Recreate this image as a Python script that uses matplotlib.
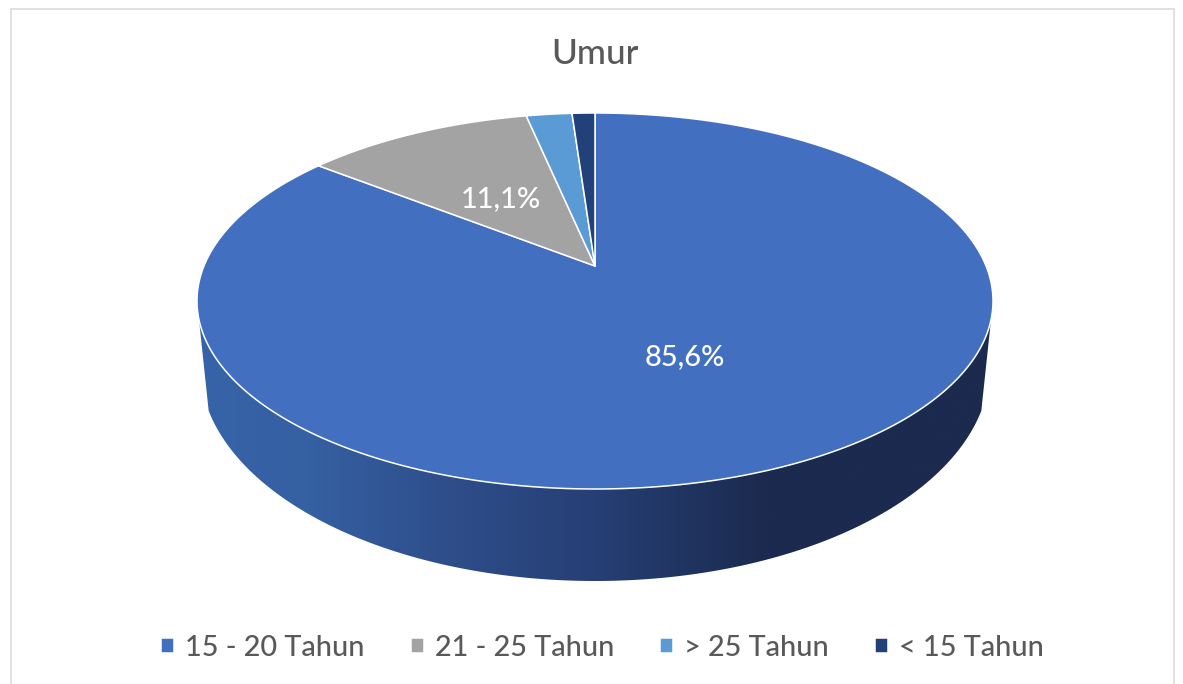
import numpy as np
import matplotlib
matplotlib.use("Agg")
import matplotlib.pyplot as plt
from matplotlib.colors import LinearSegmentedColormap
from matplotlib.patches import Polygon

# data
categories = ["15 - 20 Tahun", "21 - 25 Tahun", "> 25 Tahun", "< 15 Tahun"]
counts = [77, 10, 2, 1]
colors = ["#426FBF", "#A3A3A3", "#5B9BD5", "#234179"]
title = "Umur"

plt.rcParams['font.family'] = ['Lato', 'DejaVu Sans']
plt.rcParams['font.weight'] = 'medium'

W, H = 1183, 684
fig = plt.figure(figsize=(W/100, H/100), dpi=100, facecolor='white')
ax = fig.add_axes([0, 0, 1, 1])
ax.axis('off')

# pie geometry in pixels
cx = 595
apex_y = 266
top_y = 113
bottom_y = 489
half_w = 398
depth_y = 581

# perspective of the top face: the centre of the circle sits above the ellipse centre
back = apex_y-top_y
front = bottom_y-apex_y
persp = (front-back)/(front+back)
A = back*(1+persp)
B = half_w*np.sqrt(1-persp**2)


def project(theta):
    u = np.sin(theta)
    v = np.cos(theta)
    d = 1+persp*v
    return cx+B*u/d, apex_y-A*v/d


# side wall, dark on the right
cy_top = (top_y+bottom_y)/2
ry_top = (bottom_y-top_y)/2
rx_low = 395
ry_low = 215
cy_low = depth_y-ry_low
t = np.linspace(np.pi, 2*np.pi, 300)
xs_top = cx+half_w*np.cos(t)
ys_top = cy_top-ry_top*np.sin(t)
xs_low = cx+rx_low*np.cos(t[::-1])
ys_low = cy_low-ry_low*np.sin(t[::-1])
# the silhouette runs straight down to the lower rim, the rim itself starts further in
keep = np.abs(xs_low-cx) <= 387
side_xy = np.column_stack([np.r_[xs_top, xs_low[keep]], np.r_[ys_top, ys_low[keep]]])

side_cmap = LinearSegmentedColormap.from_list("side", [
    (0.0, "#3763A8"), (0.14, "#3560A2"), (0.3, "#2F4F8C"),
    (0.5, "#263F75"), (0.72, "#1B2A4E"), (1.0, "#1B2A4E")])
im = ax.imshow(np.linspace(0, 1, 400).reshape(1, -1), cmap=side_cmap, aspect='auto',
               extent=[cx-half_w, cx+half_w, depth_y+2, cy_top], zorder=1)
side = Polygon(side_xy, closed=True, transform=ax.transData, facecolor='none', edgecolor='none')
ax.add_patch(side)
im.set_clip_path(side)

# top face slices, clockwise from 12 o'clock
fracs = np.array(counts)/np.sum(counts)
edges = np.r_[0, np.cumsum(fracs)]*2*np.pi
handles = []
for i in range(len(counts)):
    th = np.linspace(edges[i], edges[i+1], 300)
    x, y = project(th)
    poly = ax.fill(np.r_[cx, x], np.r_[apex_y, y], facecolor=colors[i], edgecolor='white',
                   linewidth=1.1, joinstyle='round', zorder=2, label=categories[i])[0]
    handles.append(poly)

# labels of the two big slices
ax.text(684.5, 357, f"{100*fracs[0]:.1f}%".replace(".", ","),
        color='white', fontsize=20.8, ha='center', va='center', zorder=3)
ax.text(500.5, 199, f"{100*fracs[1]:.1f}%".replace(".", ","),
        color='white', fontsize=20.8, ha='center', va='center', zorder=3)

ax.text(594.5, 54, title, color='#595959', fontsize=25.3, ha='center', va='center')

# chart border, cut off at the bottom of the image
ax.plot([11, 11, 1174, 1174], [H, 9, 9, H], color='#D9D9D9', linewidth=1.1, solid_joinstyle='miter')

ax.set_xlim(0, W)
ax.set_ylim(H, 0)

ax.legend(handles=handles, ncol=4, loc='center', bbox_to_anchor=(602.5/W, 1-648/H), frameon=False,
          fontsize=20.8, labelcolor='#595959', handlelength=0.45, handleheight=0.45,
          handletextpad=0.38, columnspacing=1.6, borderpad=0, labelspacing=0)

fig.savefig("out.png", dpi=100)
